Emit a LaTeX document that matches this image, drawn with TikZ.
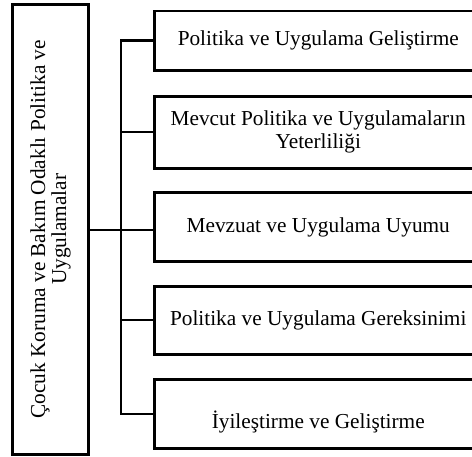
\documentclass[tikz,border=0pt]{standalone}
\usepackage{fontspec}
\setmainfont{Liberation Serif}
\begin{document}
\begin{tikzpicture}[x=1pt,y=1pt, line width=2.5pt,
  txt/.style={font=\fontsize{21.3}{23}\selectfont, align=center, inner sep=0pt},
  box/.style={draw, line width=2.5pt, minimum width=327.5pt, inner sep=0pt, align=center, font=\fontsize{21.3}{23}\selectfont},
  link/.style={draw, line width=2.5pt}]
\useasboundingbox (0,0) rectangle (472,-457);
\clip (0,0) rectangle (472,-457);
\node[draw, rotate=90, minimum width=450.2pt, minimum height=76pt, inner sep=0pt, align=center, font=\fontsize{21.3}{21}\selectfont] (main) at (50.5,-229.4) {Çocuk Koruma ve Bakım Odaklı Politika ve\\Uygulamalar};
\node[box, minimum height=59.3pt] (b1) at (318.25,-40.65) {Politika ve Uygulama Geliştirme};
\node[box, minimum height=72pt] (b2) at (318.25,-132.3) {Mevcut Politika ve Uygulamaların\\Yeterliliği};
\node[box, minimum height=69pt] (b3) at (318.25,-227.2) {Mevzuat ve Uygulama Uyumu};
\node[box, minimum height=67.6pt] (b4) at (318.25,-320.5) {Politika ve Uygulama Gereksinimi};
\node[box, minimum height=69.4pt] (b5) at (318.25,-414) {};
\node[txt] (t5txt) at ([yshift=-8pt]b5.center) {İyileştirme ve Geliştirme};
\coordinate (tr1) at (121.2,-40.65);
\coordinate (tr2) at (121.2,-131.8);
\coordinate (tr3) at (121.2,-230);
\coordinate (tr4) at (121.2,-320);
\coordinate (tr5) at (121.2,-413.8);
\path[link] (b1.west) -- (tr1) -- (tr5) -- (tr5 -| b5.west);
\path[link] (tr2) -- (tr2 -| b2.west);
\path[link] (tr4) -- (tr4 -| b4.west);
\path[link] (tr3 -| main.south) -- (tr3) -- (tr3 -| b3.west);
\end{tikzpicture}
\end{document}
